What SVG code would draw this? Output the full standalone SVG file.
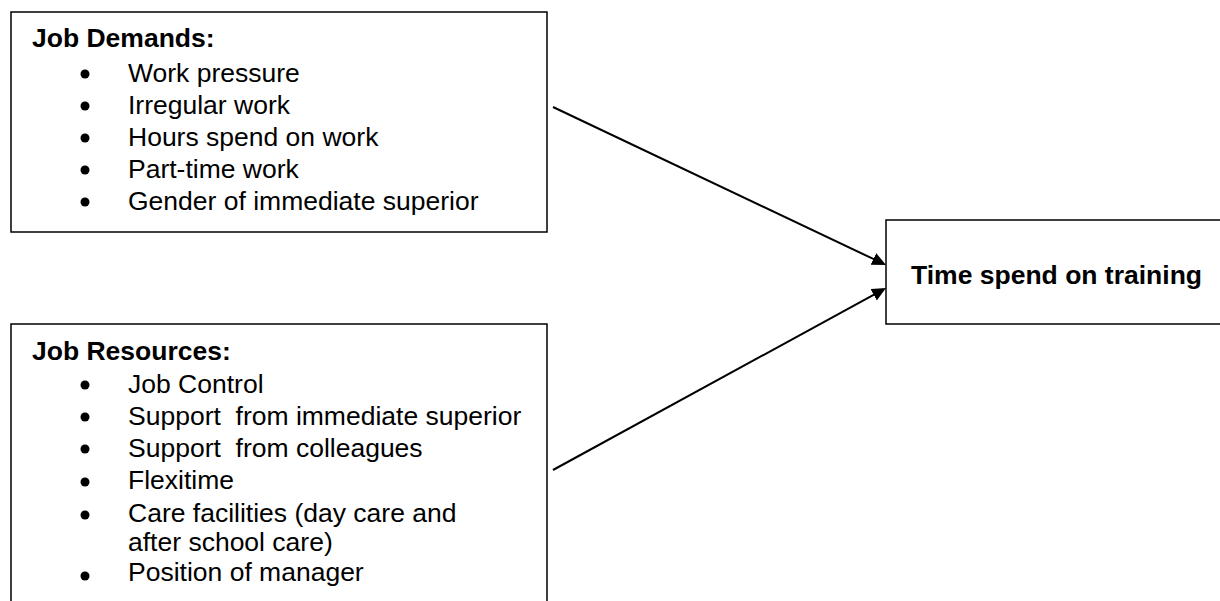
<svg xmlns="http://www.w3.org/2000/svg" width="1220" height="601" viewBox="0 0 1220 601">
<style>
.box{fill:#fff;stroke:#000;stroke-width:1.5}
.t{font-family:"Liberation Sans",Arial,sans-serif;font-size:26.5px;fill:#000;white-space:pre}
.b{font-weight:bold}
.dot{fill:#000}
.conn{stroke:#000;stroke-width:2;fill:none}
</style>
<defs>
<marker id="arr" markerUnits="userSpaceOnUse" markerWidth="16" markerHeight="14" refX="4" refY="6.5" orient="auto">
<path d="M0,0 L14,6.5 L0,13 z" fill="#000"/>
</marker>
</defs>
<rect width="1220" height="601" fill="#fff"/>
<g id="demands">
<rect class="box" x="11" y="12" width="536" height="220"/>
<text class="t b" x="32" y="47">Job Demands:</text>
<circle class="dot" cx="85" cy="74" r="4.5"/><text class="t" x="128" y="82">Work pressure</text>
<circle class="dot" cx="85" cy="106" r="4.5"/><text class="t" x="128" y="114">Irregular work</text>
<circle class="dot" cx="85" cy="138" r="4.5"/><text class="t" x="128" y="146">Hours spend on work</text>
<circle class="dot" cx="85" cy="170" r="4.5"/><text class="t" x="128" y="178">Part-time work</text>
<circle class="dot" cx="85" cy="202" r="4.5"/><text class="t" x="128" y="210">Gender of immediate superior</text>
</g>
<g id="resources">
<path class="box" d="M11,610 L11,324 L547,324 L547,610"/>
<text class="t b" x="32" y="360">Job Resources:</text>
<circle class="dot" cx="85" cy="385" r="4.5"/><text class="t" x="128" y="393">Job Control</text>
<circle class="dot" cx="85" cy="417" r="4.5"/><text class="t" x="128" y="425">Support  from immediate superior</text>
<circle class="dot" cx="85" cy="449" r="4.5"/><text class="t" x="128" y="457">Support  from colleagues</text>
<circle class="dot" cx="85" cy="482" r="4.5"/><text class="t" x="128" y="489">Flexitime</text>
<circle class="dot" cx="85" cy="515" r="4.5"/><text class="t" x="128" y="522">Care facilities (day care and</text>
<text class="t" x="128" y="551">after school care)</text>
<circle class="dot" cx="85" cy="576" r="4.5"/><text class="t" x="128" y="581">Position of manager</text>
</g>
<g id="training">
<path class="box" d="M1230,220 L886,220 L886,324 L1230,324"/>
<text class="t b" x="911" y="284">Time spend on training</text>
</g>
<g id="connectors">
<line class="conn" x1="553" y1="107" x2="877" y2="260.7" marker-end="url(#arr)"/>
<line class="conn" x1="553" y1="470" x2="877.2" y2="292.8" marker-end="url(#arr)"/>
</g>
</svg>
